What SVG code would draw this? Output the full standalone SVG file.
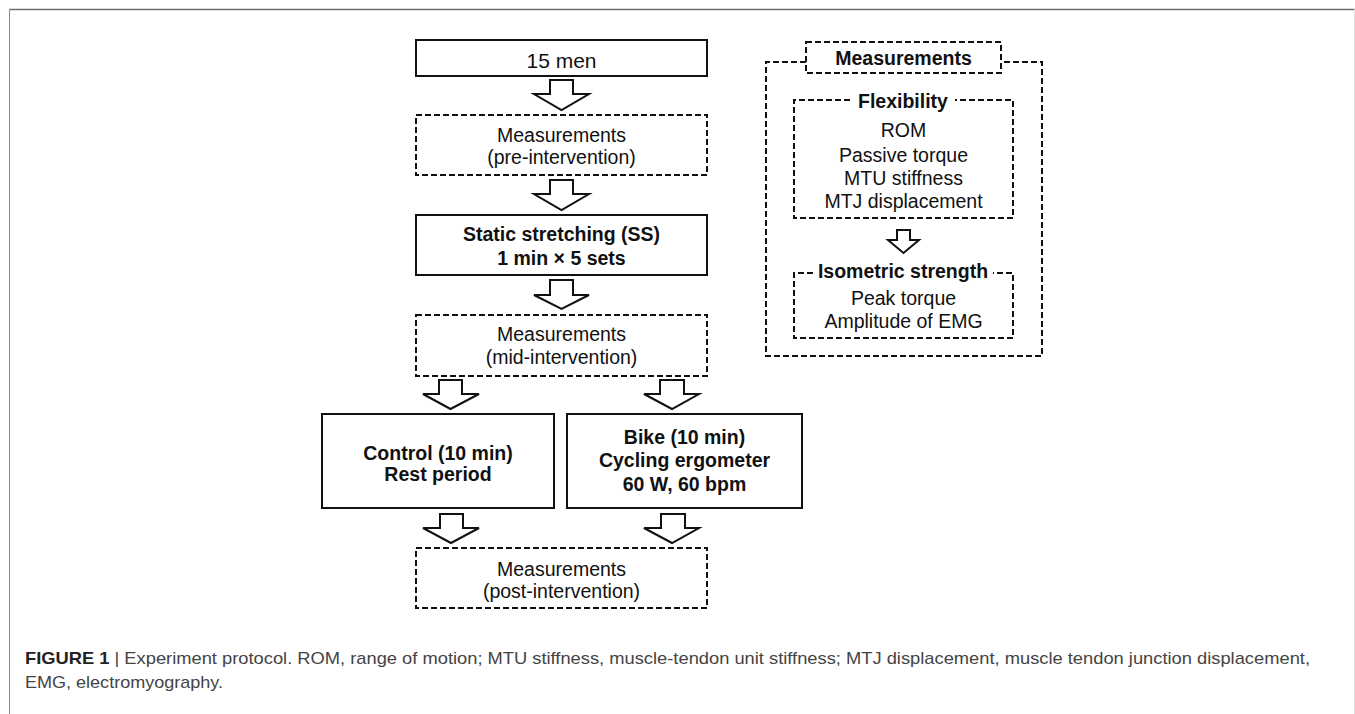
<svg xmlns="http://www.w3.org/2000/svg" width="1355" height="714" viewBox="0 0 1355 714">
<style>
text{font-family:"Liberation Sans",Arial,sans-serif;fill:#111;text-anchor:middle}
.t{font-size:19.5px}
.b{font-size:19.5px;font-weight:bold}
.solid{fill:#fff;stroke:#111;stroke-width:2}
.dash{fill:none;stroke:#111;stroke-width:2;stroke-dasharray:6 3}
.arr{fill:#fff;stroke:#111;stroke-width:2;stroke-linejoin:miter}
.cap{font-size:17px;fill:#444;text-anchor:start}
</style>
<rect x="0" y="0" width="1355" height="714" fill="#fff"/>
<g id="frame">
<line x1="9" y1="9.5" x2="1355" y2="9.5" stroke="#6f6f6f" stroke-width="1.5"/>
<line x1="9.5" y1="9" x2="9.5" y2="714" stroke="#888" stroke-width="1"/>
<line x1="1354.5" y1="9" x2="1354.5" y2="714" stroke="#ddd" stroke-width="1"/>
</g>
<g id="n-men"><rect class="solid" x="416" y="40" width="291" height="36"/><text class="t" x="561.5" y="68" style="font-size:21px">15 men</text></g>
<g id="n-pre"><rect class="dash" x="416" y="115" width="291" height="60"/><text class="t" x="561.5" y="141.5">Measurements</text><text class="t" x="561.5" y="164">(pre-intervention)</text></g>
<g id="n-ss"><rect class="solid" x="416" y="215" width="291" height="60"/><text class="b" x="561.5" y="241">Static stretching (SS)</text><text class="b" x="561.5" y="265">1 min × 5 sets</text></g>
<g id="n-mid"><rect class="dash" x="416" y="315" width="291" height="61"/><text class="t" x="561.5" y="340.5">Measurements</text><text class="t" x="561.5" y="364">(mid-intervention)</text></g>
<g id="n-control"><rect class="solid" x="322" y="414" width="232" height="94"/><text class="b" x="438" y="460">Control (10 min)</text><text class="b" x="438" y="481">Rest period</text></g>
<g id="n-bike"><rect class="solid" x="567" y="414" width="235" height="94"/><text class="b" x="684.5" y="444">Bike (10 min)</text><text class="b" x="684.5" y="467">Cycling ergometer</text><text class="b" x="684.5" y="491">60 W, 60 bpm</text></g>
<g id="n-post"><rect class="dash" x="416" y="548" width="291" height="60"/><text class="t" x="561.5" y="576">Measurements</text><text class="t" x="561.5" y="598">(post-intervention)</text></g>
<g id="n-meas-panel">
<path class="dash" d="M806 62 H766 V356 H1042 V62 H1001"/>
<rect class="dash" x="806" y="42" width="195" height="31"/>
<text class="b" x="903.5" y="65">Measurements</text>
</g>
<g id="n-flex">
<path class="dash" d="M850 100 H794 V218 H1013 V100 H955"/>
<text class="b" x="903" y="108">Flexibility</text>
<text class="t" x="903.5" y="137">ROM</text>
<text class="t" x="903.5" y="162">Passive torque</text>
<text class="t" x="903.5" y="185">MTU stiffness</text>
<text class="t" x="903.5" y="208">MTJ displacement</text>
</g>
<g id="n-iso">
<path class="dash" d="M813 273 H794 V338 H1013 V273 H993"/>
<text class="b" x="903" y="278">Isometric strength</text>
<text class="t" x="903.5" y="305">Peak torque</text>
<text class="t" x="903.5" y="328">Amplitude of EMG</text>
</g>
<g id="connectors">
<polygon class="arr" points="550,80 573,80 573,94 589,94 561.5,110 534,94 550,94"/>
<polygon class="arr" points="550,180 573,180 573,194 589,194 561.5,210 534,194 550,194"/>
<polygon class="arr" points="550,280 573,280 573,295 589,295 561.5,309 534,295 550,295"/>
<polygon class="arr" points="439,380 462,380 462,394 479,394 450.5,409 423,394 439,394"/>
<polygon class="arr" points="660,380 684,380 684,394 699,394 672,409 644,394 660,394"/>
<polygon class="arr" points="440,514 463,514 463,528 479,528 451,543 423,528 440,528"/>
<polygon class="arr" points="661,514 685,514 685,528 699,528 672,543 644,528 661,528"/>
<polygon class="arr" points="897,230 910,230 910,240 919,240 903.5,253 888,240 897,240"/>
</g>
<g id="caption">
<text class="cap" x="25" y="664" textLength="1285" lengthAdjust="spacingAndGlyphs"><tspan style="font-weight:bold;fill:#222">FIGURE 1</tspan>  |  Experiment protocol. ROM, range of motion; MTU stiffness, muscle-tendon unit stiffness; MTJ displacement, muscle tendon junction displacement,</text>
<text class="cap" x="25" y="688" textLength="198" lengthAdjust="spacingAndGlyphs">EMG, electromyography.</text>
</g>
</svg>
